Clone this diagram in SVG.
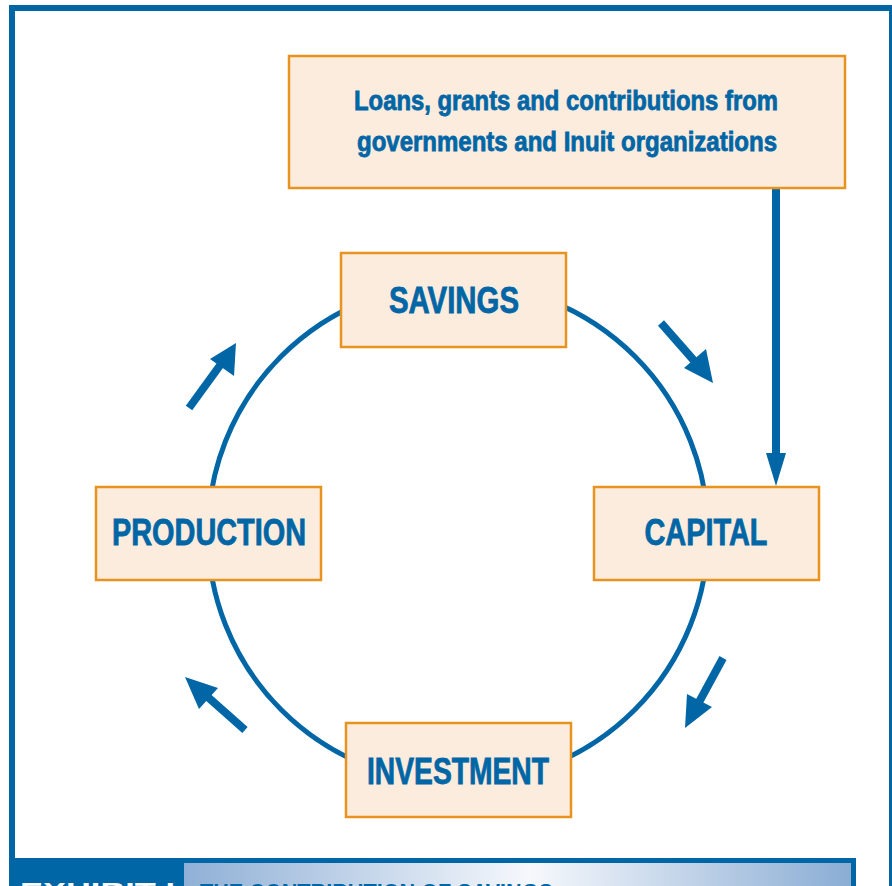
<svg xmlns="http://www.w3.org/2000/svg" width="892" height="886" viewBox="0 0 892 886">
<style>
.box{fill:#fcecdd;stroke:#e8921f;stroke-width:2.5}
.lbl{font-family:"Liberation Sans",Arial,sans-serif;font-weight:bold;fill:#0066a6;stroke:#0066a6;stroke-width:0.8;text-anchor:middle}
.big{font-size:36px}
.small{font-size:28px}
.ring{fill:none;stroke:#0066a6;stroke-width:5}
.shaft{stroke:#0066a6;stroke-width:8;fill:none}
.head{fill:#0066a6}
</style>
<defs>
<linearGradient id="grad" x1="0" y1="0" x2="1" y2="0">
<stop offset="0" stop-color="#8fb0d6"/>
<stop offset="0.52" stop-color="#f6f8fc"/>
<stop offset="1" stop-color="#8aadd4"/>
</linearGradient>
</defs>
<rect x="0" y="0" width="892" height="886" fill="#fff"/>
<rect x="12" y="8" width="880" height="900" fill="none" stroke="#0066a6" stroke-width="6"/>
<rect x="10" y="858" width="846" height="40" fill="#0066a6"/>
<rect x="184" y="863" width="667" height="40" fill="url(#grad)"/>
<text x="20" y="900" font-family="'Liberation Sans',Arial,sans-serif" font-weight="bold" font-size="24" fill="#fff" textLength="155" lengthAdjust="spacingAndGlyphs">EXHIBIT I</text>
<text x="200" y="901" font-family="'Liberation Sans',Arial,sans-serif" font-weight="bold" font-size="24" fill="#0066a6" textLength="353" lengthAdjust="spacingAndGlyphs">THE CONTRIBUTION OF SAVINGS</text>

<g id="connectors">
<circle class="ring" cx="458" cy="533" r="250"/>
<line class="shaft" x1="776" y1="188" x2="776" y2="460"/>
<polygon class="head" points="766,453 786,453 776,486"/>
<g id="arrow-tr">
<line class="shaft" x1="661" y1="323" x2="697" y2="364"/>
<polygon class="head" points="713,383 684,368 706,349"/>
</g>
<g id="arrow-br">
<line class="shaft" x1="723" y1="658" x2="698" y2="704"/>
<polygon class="head" points="685,728 687,694 712,707"/>
</g>
<g id="arrow-bl">
<line class="shaft" x1="245" y1="730" x2="201" y2="691"/>
<polygon class="head" points="185,677 218,688 199,709"/>
</g>
<g id="arrow-tl">
<line class="shaft" x1="189" y1="408" x2="221" y2="364"/>
<polygon class="head" points="236,343 234,376 210,359"/>
</g>
</g>

<g id="funding">
<rect class="box" x="289" y="56" width="556" height="132"/>
<text class="lbl small" x="566" y="110" textLength="424" lengthAdjust="spacingAndGlyphs">Loans, grants and contributions from</text>
<text class="lbl small" x="567" y="151" textLength="420" lengthAdjust="spacingAndGlyphs">governments and Inuit organizations</text>
</g>
<g id="savings">
<rect class="box" x="341" y="253" width="225" height="94"/>
<text class="lbl big" x="454" y="313" textLength="130" lengthAdjust="spacingAndGlyphs">SAVINGS</text>
</g>
<g id="capital">
<rect class="box" x="594" y="487" width="225" height="93"/>
<text class="lbl big" x="706" y="545" textLength="123" lengthAdjust="spacingAndGlyphs">CAPITAL</text>
</g>
<g id="production">
<rect class="box" x="96" y="487" width="225" height="93"/>
<text class="lbl big" x="209" y="545" textLength="194" lengthAdjust="spacingAndGlyphs">PRODUCTION</text>
</g>
<g id="investment">
<rect class="box" x="346" y="723" width="225" height="94"/>
<text class="lbl big" x="458" y="784" textLength="182" lengthAdjust="spacingAndGlyphs">INVESTMENT</text>
</g>
</svg>
